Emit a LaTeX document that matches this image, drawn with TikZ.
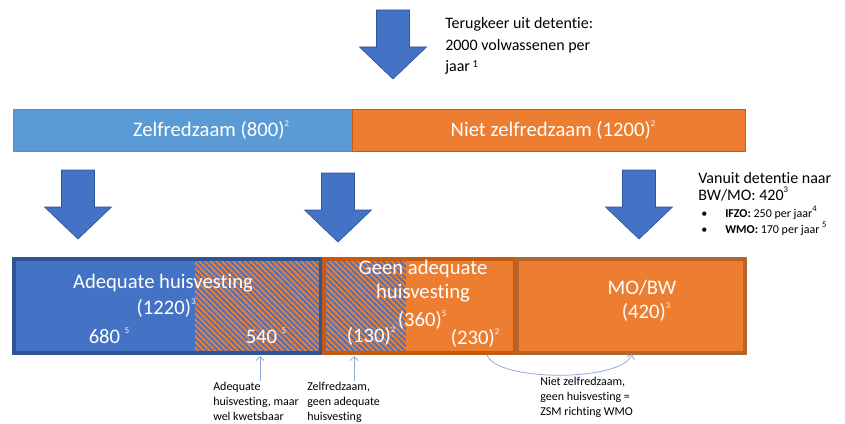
\documentclass[tikz,border=0pt]{standalone}
\usepackage{fontspec}
\setmainfont{Carlito}[Ligatures=NoCommon]
\usetikzlibrary{patterns.meta,arrows.meta}

\definecolor{barblue}{RGB}{91,155,213}
\definecolor{boxblue}{RGB}{68,114,196}
\definecolor{darkblue}{RGB}{47,85,151}
\definecolor{boxorange}{RGB}{237,125,49}
\definecolor{darkorange}{RGB}{197,90,17}
\definecolor{brownorange}{RGB}{181,101,44}
\definecolor{lineblue}{RGB}{143,170,220}

\newcommand{\supnum}[1]{\raisebox{1.05ex}{\fontsize{6.5}{6.5}\selectfont #1}}

\begin{document}
\begin{tikzpicture}[x=0.75pt,y=0.75pt,yscale=-1,xscale=1,
    bigarrow/.style={fill=boxblue,draw=darkblue,line width=0.5pt,line join=miter},
    hatch/.style={pattern={Lines[angle=-45,distance=3pt,line width=1.5pt]},pattern color=boxorange},
    boxtext/.style={text=white,inner sep=0.75pt,font=\fontsize{15.5}{17}\selectfont},
    bartext/.style={text=white,inner sep=0.75pt,font=\fontsize{15.5}{17}\selectfont},
    note/.style={anchor=north west,inner sep=0.75pt,align=left,font=\fontsize{9}{11.2}\selectfont},
    pointer/.style={draw=lineblue,line width=0.6pt,-{Straight Barb[length=3pt,width=6pt]}}]
\useasboundingbox (0,0) rectangle (845,424);

%Block Arrows
\foreach \ax/\ay in {393/10, 78/170, 338/173, 639/170}{
  \draw[bigarrow] (\ax-16.5,\ay) -- (\ax+16.5,\ay) -- (\ax+16.5,\ay+37) -- (\ax+33.5,\ay+37)
    -- (\ax,\ay+69) -- (\ax-33.5,\ay+37) -- (\ax-16.5,\ay+37) -- cycle;
}

%Shape: Rectangle (top bar)
\draw[fill=barblue,draw=darkblue!70,line width=0.4pt] (13,109) rectangle (352,151);
\draw[fill=boxorange,draw=darkorange,line width=0.4pt] (352,109) rectangle (745,151);

%Shape: Rectangle (bottom boxes)
\fill[boxblue] (14,259) rectangle (322,353);
\fill[hatch] (195,259) rectangle (322,353);
\draw[darkblue,line width=3pt] (14,259) rectangle (321,353);
\fill[boxorange] (324,259) rectangle (515,353);
\fill[boxblue] (324,259) rectangle (406,353);
\fill[hatch] (324,259) rectangle (406,353);
\draw[darkorange,line width=2.5pt] (324,259) rectangle (515,353);
\draw[fill=boxorange,draw=brownorange,line width=3pt] (517,259) rectangle (745,353);

% Text Node
\node[bartext] (zelf) at (211,130) {Zelfredzaam (800)\supnum{2}};
% Text Node
\node[bartext] (nietzelf) at (553,130) {Niet zelfredzaam (1200)\supnum{2}};
% Text Node
\node[anchor=west,inner sep=0.75pt,align=left,font=\fontsize{12}{16.2}\selectfont] (terug) at (444,46)
  {Terugkeer uit detentie:\\2000 volwassenen per\\jaar\,\raisebox{0.5ex}{\fontsize{8}{8}\selectfont 1}};
% Text Node
\node[anchor=north west,inner sep=0.75pt,align=left,font=\fontsize{12}{12.8}\selectfont] (vanuit) at (697,171)
  {Vanuit detentie naar\\BW/MO: 420\supnum{3}};
% Text Node
\node[anchor=west,inner sep=0.75pt,font=\fontsize{9}{11}\selectfont] (ifzo) at (700,213)
  {\makebox[18pt][l]{\textbullet}\textbf{IFZO:} 250 per jaar\supnum{4}};
% Text Node
\node[anchor=west,inner sep=0.75pt,font=\fontsize{9}{11}\selectfont] (wmo) at (700,229)
  {\makebox[18pt][l]{\textbullet}\textbf{WMO:} 170 per jaar \supnum{5}};

% Text Node
\node[boxtext] (adeq) at (163,283) {Adequate huisvesting};
% Text Node
\node[boxtext] (adeqnum) at (166,308) {(1220)\supnum{3}};
% Text Node
\node[boxtext] (sixeighty) at (109,336) {680 \supnum{5}};
% Text Node
\node[boxtext] (fivefourty) at (266,336) {540 \supnum{5}};
% Text Node
\node[boxtext,align=center,font=\fontsize{15.5}{18}\selectfont] (geen) at (423,281) {Geen adequate\\huisvesting};
% Text Node
\node[boxtext] (geennum) at (422,320) {(360)\supnum{5}};
% Text Node
\node[boxtext] (onethirty) at (371,336) {(130)\supnum{2}};
% Text Node
\node[boxtext] (twothirty) at (475,338) {(230)\supnum{2}};
% Text Node
\node[boxtext] (mobw) at (642,288) {MO/BW};
% Text Node
\node[boxtext] (mobwnum) at (646,312) {(420)\supnum{3}};

% Text Node
\node[note] (kwetsbaar) at (212,381) {Adequate\\huisvesting, maar\\wel kwetsbaar};
% Text Node
\node[note] (zelfgeen) at (306,381) {Zelfredzaam,\\geen adequate\\huisvesting};
% Text Node
\node[note] (zsm) at (539,376) {Niet zelfredzaam,\\geen huisvesting =\\ZSM richting WMO};

%Straight Lines
\coordinate (tipkwets) at (260,356);
\coordinate (tipzelf) at (354,356);
\draw[pointer] (kwetsbaar.north -| tipkwets) -- (tipkwets);
\draw[pointer] (zelfgeen.north -| tipzelf) -- (tipzelf);
%Curve Lines
\coordinate (curvestart) at (487,355);
\coordinate (curveend) at (632,354);
\draw[pointer] (curvestart) .. controls (497,382) and (622,382) .. (curveend);

\end{tikzpicture}
\end{document}
